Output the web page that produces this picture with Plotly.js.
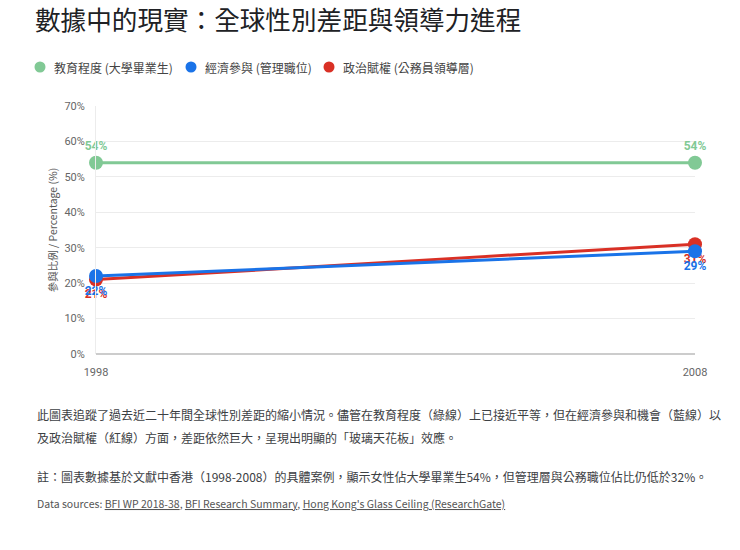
<!DOCTYPE html>
<html>
<head>
<meta charset="utf-8">
<script src="https://cdn.plot.ly/plotly-3.0.1.min.js"></script>
<style>
html,body{margin:0;padding:0;background:#fff;}
#chart{width:740px;height:550px;}
</style>
</head>
<body>
<div id="chart"></div>
<script>
// ---- data ----
const years = [1998, 2008];
const educationValues = [54, 54];
const economicValues = [22, 29];
const politicalValues = [21, 31];
const seriesNames = ['教育程度 (大學畢業生)', '經濟參與 (管理職位)', '政治賦權 (公務員領導層)'];
const yTickValues = [0, 10, 20, 30, 40, 50, 60, 70];
const titleText = '數據中的現實：全球性別差距與領導力進程';
const yTitleText = '參與比例 / Percentage (%)';
const noteLine1 = '此圖表追蹤了過去近二十年間全球性別差距的縮小情況。儘管在教育程度（綠線）上已接近平等，但在經濟參與和機會（藍線）以';
const noteLine2 = '及政治賦權（紅線）方面，差距依然巨大，呈現出明顯的「玻璃天花板」效應。';
const noteLine3 = '註：圖表數據基於文獻中香港（1998-2008）的具體案例，顯示女性佔大學畢業生54%，但管理層與公務職位佔比仍低於32%。';
const sourceLinks = ['BFI WP 2018-38', 'BFI Research Summary', "Hong Kong's Glass Ceiling (ResearchGate)"];

// ---- styling ----
const GREEN = '#81c995', BLUE = '#1a73e8', RED = '#d93025';
const FONT = 'Roboto, "Noto Sans CJK TC", "Noto Sans", sans-serif';
const CJK = '"Noto Sans CJK TC", Roboto, sans-serif';

const W = 740, H = 550;
const L = 96, R = 45, T = 106, B = 196;
const plotW = W - L - R, plotH = H - T - B;
const px = x => (x - L) / plotW;
const py = y => (H - B - y) / plotH;

function series(name, vals, color, pos) {
  return {
    x: years, y: vals, name: name, type: 'scatter', mode: 'lines+markers+text',
    line: {color: color, width: 3},
    marker: {color: color, size: 14},
    text: vals.map(v => v + '%'),
    textposition: pos,
    textfont: {color: color, size: 12, family: FONT, weight: 'bold'},
    showlegend: false, hoverinfo: 'x+y+name', cliponaxis: false
  };
}

const data = [
  series(seriesNames[0], educationValues, GREEN, 'top center'),
  series(seriesNames[2], politicalValues, RED, 'bottom center'),
  series(seriesNames[1], economicValues, BLUE, 'bottom center')
];

// custom legend (circle swatch + label), in legend order
const legendColors = [GREEN, BLUE, RED];
const legendSwatchX = [40, 191, 329];
const legendY = 67;
const legendShapes = legendColors.map((c, i) => ({
  type: 'circle', xref: 'paper', yref: 'paper', xsizemode: 'pixel', ysizemode: 'pixel',
  xanchor: px(legendSwatchX[i]), yanchor: py(legendY),
  x0: -5.5, x1: 5.5, y0: -5.5, y1: 5.5,
  fillcolor: c, line: {width: 0}
}));
const legendLabels = seriesNames.map((n, i) => ({
  text: n, xref: 'paper', yref: 'paper', x: px(legendSwatchX[i] + 12), y: py(legendY),
  xanchor: 'left', yanchor: 'middle', showarrow: false,
  font: {family: CJK, size: 12, color: '#444'}
}));

const linkText = sourceLinks.map(s => '<u>' + s + '</u>').join(', ');

function note(text, y, size, color) {
  return {text: text, xref: 'paper', yref: 'paper', x: px(35), y: py(y),
          xanchor: 'left', yanchor: 'middle', showarrow: false, align: 'left',
          font: {size: size, color: color, family: CJK}};
}

const layout = {
  width: W, height: H,
  margin: {l: L, r: R, t: T, b: B},
  paper_bgcolor: '#fff', plot_bgcolor: '#fff',
  font: {family: FONT, color: '#444'},
  title: {text: titleText, xref: 'container', yref: 'container', x: 35 / W, y: 1 - 21 / H,
          xanchor: 'left', yanchor: 'middle', font: {family: CJK, size: 25.6, color: '#202124'}},
  showlegend: false,
  xaxis: {range: [1998, 2008], tickmode: 'array', tickvals: years, ticktext: years.map(String),
          showgrid: false, zeroline: false, showline: false,
          ticks: 'outside', ticklen: 8, tickcolor: 'rgba(0,0,0,0)',
          tickfont: {size: 11, color: '#666', family: FONT}, fixedrange: true},
  yaxis: {range: [0, 70], tickmode: 'array', tickvals: yTickValues,
          ticktext: yTickValues.map(v => v + '%'),
          showgrid: true, gridcolor: '#ececec', gridwidth: 1,
          zeroline: true, zerolinecolor: '#cccccc', zerolinewidth: 1.5,
          showline: true, linecolor: '#ececec', linewidth: 1,
          ticks: 'outside', ticklen: 8, tickcolor: 'rgba(0,0,0,0)',
          tickfont: {size: 11, color: '#666', family: FONT},
          title: {text: yTitleText, font: {size: 10.5, color: '#555', family: CJK}, standoff: 4},
          fixedrange: true},
  shapes: legendShapes,
  annotations: legendLabels.concat([
    note(noteLine1, 414, 12, '#3c4043'),
    note(noteLine2, 437, 12, '#3c4043'),
    note(noteLine3, 476, 12, '#3c4043'),
    note('Data sources: ' + linkText, 503, 10.5, '#555')
  ])
};

Plotly.newPlot('chart', data, layout, {displayModeBar: false, staticPlot: true});
</script>
</body>
</html>
